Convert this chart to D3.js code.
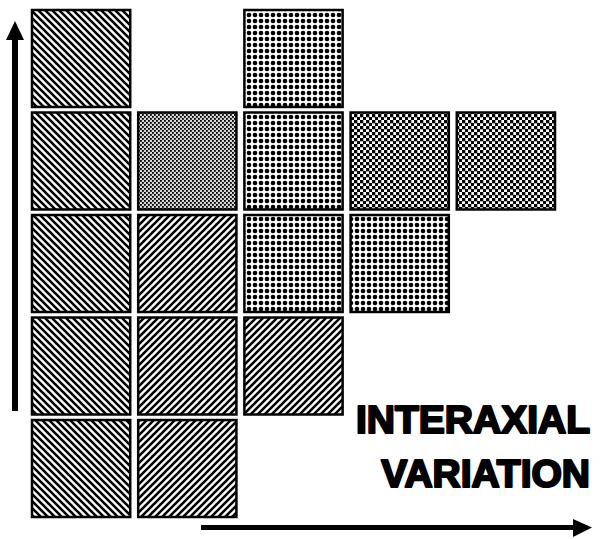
<!DOCTYPE html>
<html><head><meta charset="utf-8">
<script src="https://cdn.jsdelivr.net/npm/d3@7"></script>
<style>html,body{margin:0;padding:0;background:#fff}</style>
</head><body>
<svg id="chart" width="601" height="539"></svg>
<script>
// Data
const columns = [1, 2, 3, 4, 5];           // interaxial variation levels
const rows = [5, 4, 3, 2, 1];              // vertical levels, top to bottom
const cellColumn  = [1,1,1,1,1, 2,2,2,2, 3,3,3,3, 4,4, 5];
const cellRow     = [5,4,3,2,1, 4,3,2,1, 5,4,3,2, 4,3, 4];
const cellPattern = ["back","back","back","back","back",
                     "fine","fwd","fwd","fwd",
                     "dots","dots","dots","fwd",
                     "check","dots",
                     "check"];
const labelLines = ["INTERAXIAL", "VARIATION"];

const svg = d3.select("#chart");
const defs = svg.append("defs");

function pat(id, size) {
  return defs.append("pattern").attr("id", id).attr("patternUnits", "userSpaceOnUse")
    .attr("width", size).attr("height", size);
}
// backslash hatch
let p = pat("back", 7);
p.append("rect").attr("width", 7).attr("height", 7).attr("fill", "#fff");
p.append("path").attr("d", "M-3.5,-3.5 L10.5,10.5 M-3.5,3.5 L3.5,10.5 M3.5,-3.5 L10.5,3.5").attr("stroke", "#000").attr("stroke-width", 2.6);
// forward hatch
p = pat("fwd", 7);
p.append("rect").attr("width", 7).attr("height", 7).attr("fill", "#fff");
p.append("path").attr("d", "M-3.5,10.5 L10.5,-3.5 M-3.5,3.5 L3.5,-3.5 M3.5,10.5 L10.5,3.5").attr("stroke", "#000").attr("stroke-width", 2.6);
// dots
p = pat("dots", 6);
p.append("rect").attr("width", 6).attr("height", 6).attr("fill", "#fff");
p.append("circle").attr("cx", 3).attr("cy", 3).attr("r", 2.3).attr("fill", "#000");
// checkerboard
p = pat("check", 6);
p.append("rect").attr("width", 6).attr("height", 6).attr("fill", "#fff");
p.append("rect").attr("width", 3.3).attr("height", 3.3).attr("fill", "#000");
p.append("rect").attr("x", 3).attr("y", 3).attr("width", 3.3).attr("height", 3.3).attr("fill", "#000");
// fine grey checker
p = pat("fine", 4);
p.append("rect").attr("width", 4).attr("height", 4).attr("fill", "#c4c4c4");
p.append("rect").attr("width", 1.8).attr("height", 1.8).attr("fill", "#000");
p.append("rect").attr("x", 2).attr("y", 2).attr("width", 1.8).attr("height", 1.8).attr("fill", "#000");
p.append("rect").attr("x", 2.4).attr("y", 0.4).attr("width", 1.2).attr("height", 1.2).attr("fill", "#fff");
p.append("rect").attr("x", 0.4).attr("y", 2.4).attr("width", 1.2).attr("height", 1.2).attr("fill", "#f0f0f0");

const x = d3.scaleBand().domain(columns).range([32, 555]).paddingInner(0.075).paddingOuter(0);
const y = d3.scaleBand().domain(rows).range([10, 517]).paddingInner(0.054).paddingOuter(0);

const cells = cellColumn.map((c, i) => ({col: c, row: cellRow[i], pattern: cellPattern[i]}));

svg.append("g").selectAll("rect").data(cells).join("rect")
  .attr("x", d => x(d.col))
  .attr("y", d => y(d.row))
  .attr("width", x.bandwidth())
  .attr("height", y.bandwidth())
  .attr("fill", d => `url(#${d.pattern})`)
  .attr("stroke", "#000").attr("stroke-width", 2.5);

// arrows
svg.append("rect").attr("x", 12).attr("y", 36).attr("width", 6).attr("height", 375).attr("fill", "#000");
svg.append("path").attr("d", "M15,21 L24,40 L6,40 Z").attr("fill", "#000");
svg.append("rect").attr("x", 201).attr("y", 525).attr("width", 375).attr("height", 5).attr("fill", "#000");
svg.append("path").attr("d", "M592,527.5 L573,519 L573,537 Z").attr("fill", "#000");

// label
svg.append("g").selectAll("text").data(labelLines).join("text")
  .attr("x", 590).attr("y", (d, i) => 433 + i * 54)
  .attr("text-anchor", "end")
  .attr("font-family", "Liberation Sans, Arial, sans-serif")
  .attr("font-weight", "bold").attr("font-size", 39)
  .attr("stroke", "#000").attr("stroke-width", 2.2).attr("stroke-linejoin", "round")
  .attr("fill", "#000")
  .text(d => d);
</script>
</body></html>
